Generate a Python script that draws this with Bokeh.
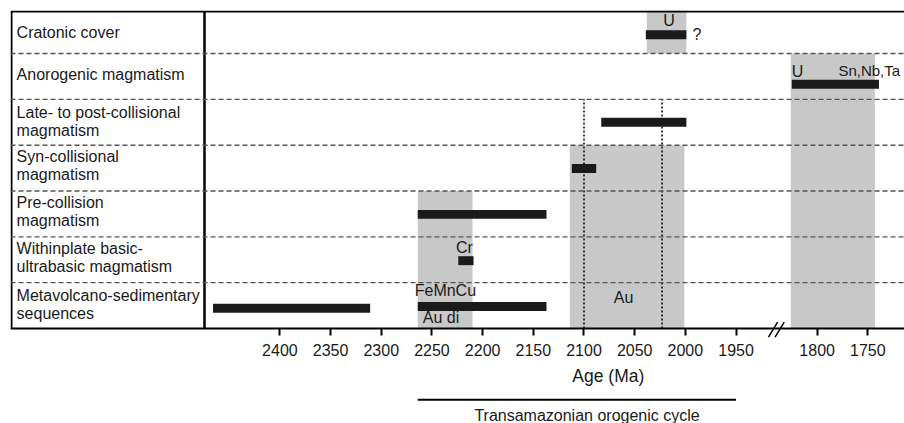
from bokeh.plotting import figure
from bokeh.models import Range1d, FixedTicker, Span, ColumnDataSource
from bokeh.embed import file_html
from bokeh.resources import INLINE
from bokeh.core.properties import value

# ---------------- data ----------------
categories = [
    "Cratonic cover",
    "Anorogenic magmatism",
    "Late- to post-collisional\nmagmatism",
    "Syn-collisional\nmagmatism",
    "Pre-collision\nmagmatism",
    "Withinplate basic-\nultrabasic magmatism",
    "Metavolcano-sedimentary\nsequences",
]

# bars: row index (into categories), start age, end age (Ma)
bar_row = [0, 1, 2, 3, 4, 5, 6, 6]
bar_start = [2039, 1825, 2083, 2112, 2264, 2224, 2466, 2264]
bar_end = [1999, 1739, 1999, 2088, 2137, 2209, 2311, 2137]

# grey periods: start age, end age, first row, last row
shade_start = [2038, 1826, 2114, 2264]
shade_end = [1999, 1743, 2001, 2210]
shade_first_row = [0, 1, 3, 4]
shade_last_row = [0, 6, 6, 6]

# dotted reference ages
dotted_ages = [2100, 2023]
dotted_first_row = 2

# deposit labels
mineral_text = ["U", "?", "U", "Sn,Nb,Ta", "Cr", "FeMnCu", "Au di", "Au"]
mineral_age = [2016, 1993, 1825, 1779, 2218, 2267, 2259, 2061]
mineral_row = [0, 0, 1, 1, 5, 6, 6, 6]

tick_ages = [2400, 2350, 2300, 2250, 2200, 2150, 2100, 2050, 2000, 1950, 1800, 1750]
axis_title = "Age (Ma)"

cycle_name = "Transamazonian orogenic cycle"
cycle_start = 2264
cycle_end = 1950

# ---------------- broken axis mapping ----------------
BREAK_FROM = 1900      # ages younger than this lie right of the break
BREAK_SHIFT = 70       # Ma cut out by the break
BREAK_MARK = 1910.5    # plot coordinate of the "//" mark


def xc(age):
    return age + BREAK_SHIFT if age < BREAK_FROM else age


# ---------------- layout constants ----------------
n = len(categories)
Y_BOTTOM = -2.073
TOP = 6.939
TOP_LINE = 6.917
X_LEFT = 2665.8
X_RIGHT = 1783.8
FRAME_LEFT = 2664.8
DIVIDER = 2474.4
LABEL_X = 2659.8

cat_dy = [0.46, 0.54, 0.52, 0.55, 0.56, 0.55, 0.52]
bar_dy = [0.41, 0.33, 0.50, 0.49, 0.49, 0.48, 0.44, 0.48]
min_dy = [0.73, 0.41, 0.61, 0.62, 0.77, 0.82, 0.24, 0.67]
min_align = ["center", "left", "left", "left", "center", "left", "left", "center"]
min_size = ["16px", "16px", "16px", "15px", "16px", "16px", "16px", "16px"]

FONT = value("Liberation Sans")
TXT = "#1a1a1a"


def row_bottom(i):
    return n - 1 - i


p = figure(width=904, height=423,
           x_range=Range1d(X_LEFT, X_RIGHT), y_range=Range1d(Y_BOTTOM, TOP),
           output_backend="svg", toolbar_location=None, y_axis_location=None,
           min_border_left=10, min_border_right=0, min_border_top=10, min_border_bottom=0)
p.outline_line_color = None
p.xgrid.visible = False
p.ygrid.visible = False
p.background_fill_color = "white"
p.border_fill_color = "white"

# grey periods
sh = ColumnDataSource(dict(
    left=[xc(a) for a in shade_start],
    right=[xc(a) for a in shade_end],
    top=[TOP if r == 0 else row_bottom(r) + 1 for r in shade_first_row],
    bottom=[row_bottom(r) for r in shade_last_row],
))
p.quad(left="left", right="right", top="top", bottom="bottom", source=sh,
       fill_color="#c8c8c8", line_color=None)

# dotted lines
p.segment(x0=[xc(a) for a in dotted_ages], x1=[xc(a) for a in dotted_ages],
          y0=[0] * len(dotted_ages), y1=[row_bottom(dotted_first_row) + 1] * len(dotted_ages),
          line_color="#111111", line_width=1.6, line_dash="2 2")

# row separators
for k in range(1, n):
    p.add_layout(Span(location=k, dimension="width", line_color="#555555",
                      line_width=1.4, line_dash="5 3"))

# frame lines
p.add_layout(Span(location=TOP_LINE, dimension="width", line_color="black", line_width=2))
p.segment(x0=[FRAME_LEFT, DIVIDER], x1=[FRAME_LEFT, DIVIDER], y0=[0, 0], y1=[TOP_LINE, TOP_LINE],
          line_color="black", line_width=[2, 2.5])

# bars
bs = ColumnDataSource(dict(
    y=[row_bottom(r) + d for r, d in zip(bar_row, bar_dy)],
    left=[xc(a) for a in bar_start],
    right=[xc(a) for a in bar_end],
))
p.hbar(y="y", left="left", right="right", height=0.195, source=bs,
       fill_color="#1a1a1a", line_color=None)

# category labels
p.text(x=[LABEL_X] * n, y=[row_bottom(i) + d for i, d in enumerate(cat_dy)], text=categories,
       text_font=FONT, text_font_size="16px", text_color=TXT,
       text_align="left", text_baseline="middle", text_line_height=1.05)

# deposit labels
for t, a, r, d, al, fs in zip(mineral_text, mineral_age, mineral_row, min_dy, min_align, min_size):
    p.text(x=[xc(a)], y=[row_bottom(r) + d], text=[t], text_font=FONT,
           text_font_size=fs, text_color=TXT, text_align=al, text_baseline="middle")

# x axis (drawn at the bottom of the table)
ax = p.xaxis[0]
ax.fixed_location = 0
ax.ticker = FixedTicker(ticks=[xc(a) for a in tick_ages])
ax.major_label_overrides = {xc(a): str(a) for a in tick_ages}
ax.axis_line_width = 2
ax.axis_line_color = "black"
ax.major_tick_line_width = 2
ax.major_tick_out = 7
ax.major_tick_in = 0
ax.minor_tick_out = 0
ax.minor_tick_in = 0
ax.major_label_text_font = "Liberation Sans"
ax.major_label_text_font_size = "16px"
ax.major_label_text_color = TXT
ax.major_label_standoff = 9

p.text(x=[2076], y=[-1.045], text=[axis_title], text_font=FONT, text_font_size="17.5px",
       text_color=TXT, text_align="center", text_baseline="middle")

# axis break marks
p.segment(x0=[BREAK_MARK + 7.5, BREAK_MARK + 1.0], x1=[BREAK_MARK - 1.5, BREAK_MARK - 8.0],
          y0=[-0.19, -0.19], y1=[0.137, 0.137], line_color="black", line_width=1.5)

# orogenic cycle bracket
p.segment(x0=[xc(cycle_start)], x1=[xc(cycle_end)], y0=[-1.556], y1=[-1.556],
          line_color="black", line_width=2)
p.text(x=[(xc(cycle_start) + xc(cycle_end)) / 2 - 10], y=[-1.905], text=[cycle_name],
       text_font=FONT, text_font_size="16px", text_color=TXT,
       text_align="center", text_baseline="middle")

open("out.html", "w").write(file_html(p, INLINE))
